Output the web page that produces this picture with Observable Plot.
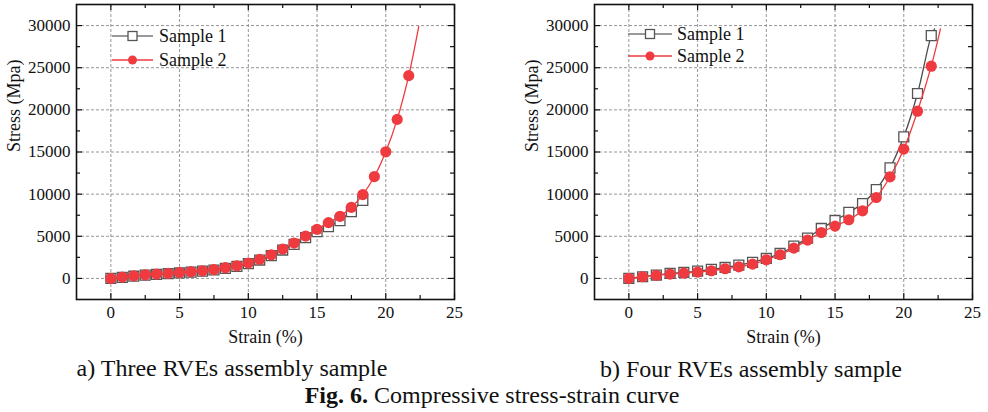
<!DOCTYPE html>
<html>
<head>
<meta charset="utf-8">
<script src="https://cdn.jsdelivr.net/npm/d3@7"></script>
<script src="https://cdn.jsdelivr.net/npm/@observablehq/plot@0.6"></script>
<style>
  html, body { margin: 0; padding: 0; background: #fff; }
  #page { position: relative; width: 988px; height: 412px; background: #fff; overflow: hidden;
          font-family: "Liberation Serif", "Times New Roman", serif; color: #111; }
  #page svg, #page svg text { font-family: "Liberation Serif", "Times New Roman", serif !important; }
  .panel { position: absolute; top: 0; }
  .cap { position: absolute; font-size: 24px; line-height: 24px; white-space: nowrap; transform: translateX(-50%); }
  #legend { position: absolute; left: 0; top: 0; pointer-events: none; }
</style>
</head>
<body>
<div id="page">
  <div class="panel" id="left"></div>
  <div class="panel" id="right" style="left:494px"></div>
  <svg id="legend" width="988" height="412"></svg>
  <div class="cap" style="left:232px; top:356px">a) Three RVEs assembly sample</div>
  <div class="cap" style="left:751px; top:357px">b) Four RVEs assembly sample</div>
  <div class="cap" style="left:492px; top:383px"><b>Fig. 6.</b> Compressive stress-strain curve</div>
</div>
<script>
// ---------- data ----------
const seriesNames = ["Sample 1", "Sample 2"];
const seriesColors = ["#555555", "#EF3B3F"];

// a) Three RVEs assembly sample
const leftStrain = [0, 0.83, 1.67, 2.5, 3.33, 4.17, 5, 5.83, 6.67, 7.5, 8.33, 9.17, 10, 10.83, 11.67, 12.5, 13.33, 14.17, 15, 15.83, 16.67, 17.5, 18.33, 19.17, 20, 20.83, 21.67];
const leftSample1 = [0, 120, 260, 390, 480, 560, 650, 750, 860, 1000, 1200, 1430, 1750, 2180, 2700, 3370, 4040, 4830, 5550, 6140, 6860, 7930, 9250];
const leftSample2 = [0, 150, 300, 430, 520, 600, 700, 800, 900, 1050, 1270, 1500, 1820, 2260, 2800, 3490, 4200, 5030, 5830, 6620, 7370, 8440, 9950, 12090, 15020, 18870, 24060];
const leftSample2LineEnd = [22.4, 29900];

// b) Four RVEs assembly sample
const rightStrain = [0, 1, 2, 3, 4, 5, 6, 7, 8, 9, 10, 11, 12, 13, 14, 15, 16, 17, 18, 19, 20, 21, 22];
const rightSample1 = [0, 200, 400, 590, 710, 870, 1070, 1300, 1580, 1900, 2370, 2960, 3830, 4780, 5930, 6880, 7830, 8890, 10550, 13120, 16800, 21940, 28810];
const rightSample2 = [0, 200, 360, 510, 630, 750, 910, 1150, 1380, 1700, 2210, 2810, 3600, 4550, 5450, 6210, 6960, 8020, 9600, 12060, 15340, 19840, 25180];
const rightSample1LineEnd = [22.24, 29600];
const rightSample2LineEnd = [22.67, 29600];

// axes
const xMajor = [0, 5, 10, 15, 20, 25];
const xMinor = [2.5, 7.5, 12.5, 17.5, 22.5];
const yMajor = [0, 5000, 10000, 15000, 20000, 25000, 30000];
const yMinor = [2500, 7500, 12500, 17500, 22500, 27500];
const xDomain = [-2.5, 25];
const yDomain = [-2500, 32500];
const xLabel = "Strain (%)";
const yLabel = "Stress (Mpa)";

const SERIF = "'Liberation Serif', 'Times New Roman', serif";

// ---------- chart ----------
function zip(xs, ys) { return ys.map((y, i) => ({x: xs[i], y})); }

function chart({s1, s2, s1End, s2End, marginLeft, marginRight}) {
  const W = 494, H = 355, mt = 4, mb = 56;
  const FW = W - marginLeft - marginRight, FH = H - mt - mb;
  const s1Line = s1End ? [...s1, {x: s1End[0], y: s1End[1]}] : s1;
  const s2Line = s2End ? [...s2, {x: s2End[0], y: s2End[1]}] : s2;
  const ink = "#111";
  const grid = {stroke: "#8a8a8a", strokeOpacity: 1, strokeWidth: 0.9, strokeDasharray: "3,2"};
  return Plot.plot({
    width: W, height: H, marginLeft, marginRight, marginTop: mt, marginBottom: mb,
    style: {fontFamily: SERIF, fontSize: "17px", color: ink, background: "transparent", overflow: "visible"},
    x: {domain: xDomain},
    y: {domain: yDomain},
    marks: [
      Plot.gridX(xMajor, grid),
      Plot.gridY(yMajor, grid),
      Plot.line(s1Line, {x: "x", y: "y", stroke: "#4a4a4a", strokeWidth: 1.3, curve: "catmull-rom"}),
      Plot.dot(s1, {x: "x", y: "y", symbol: "square", r: 5.6, fill: "white", stroke: seriesColors[0], strokeWidth: 1.3}),
      Plot.line(s2Line, {x: "x", y: "y", stroke: seriesColors[1], strokeWidth: 1.3, curve: "catmull-rom"}),
      Plot.dot(s2, {x: "x", y: "y", symbol: "circle", r: 5.6, fill: seriesColors[1], stroke: "none"}),
      Plot.frame({stroke: ink, strokeWidth: 1.6}),
      // inward ticks on all four sides
      Plot.tickX(xMajor, {x: d => d, stroke: ink, strokeWidth: 1.2, insetTop: FH - 6}),
      Plot.tickX(xMinor, {x: d => d, stroke: ink, strokeWidth: 1.2, insetTop: FH - 4}),
      Plot.tickX(xMajor, {x: d => d, stroke: ink, strokeWidth: 1.2, insetBottom: FH - 6}),
      Plot.tickX(xMinor, {x: d => d, stroke: ink, strokeWidth: 1.2, insetBottom: FH - 4}),
      Plot.tickY(yMajor, {y: d => d, stroke: ink, strokeWidth: 1.2, insetRight: FW - 6}),
      Plot.tickY(yMinor, {y: d => d, stroke: ink, strokeWidth: 1.2, insetRight: FW - 4}),
      Plot.tickY(yMajor, {y: d => d, stroke: ink, strokeWidth: 1.2, insetLeft: FW - 6}),
      Plot.tickY(yMinor, {y: d => d, stroke: ink, strokeWidth: 1.2, insetLeft: FW - 4}),
      Plot.axisX({ticks: xMajor, tickSize: 0, tickPadding: 6, label: null, fontSize: 17, fontFamily: SERIF, tickFormat: d => String(d)}),
      Plot.axisY({ticks: yMajor, tickSize: 0, tickPadding: 6, label: null, fontSize: 17, fontFamily: SERIF, tickFormat: d => String(d)}),
      Plot.text([xLabel], {text: d => d, frameAnchor: "bottom", dy: 43, fontSize: 18, fontFamily: SERIF, fill: ink}),
      Plot.text([yLabel], {text: d => d, frameAnchor: "left", dx: -62, rotate: -90, fontSize: 18, fontFamily: SERIF, fill: ink})
    ]
  });
}

document.getElementById("left").append(chart({
  s1: zip(leftStrain, leftSample1), s2: zip(leftStrain, leftSample2),
  s1End: null, s2End: leftSample2LineEnd, marginLeft: 76, marginRight: 40
}));
document.getElementById("right").append(chart({
  s1: zip(rightStrain, rightSample1), s2: zip(rightStrain, rightSample2),
  s1End: rightSample1LineEnd, s2End: rightSample2LineEnd, marginLeft: 100, marginRight: 16
}));

// ---------- legends (inside plot areas) ----------
const legendBoxes = [
  {x0: 112, x1: 153, tx: 159, y: [36, 60]},
  {x0: 628, x1: 672, tx: 677, y: [34, 56]}
];
const lg = d3.select("#legend");
legendBoxes.forEach(b => {
  seriesNames.forEach((name, i) => {
    const y = b.y[i], cx = (b.x0 + b.x1) / 2;
    lg.append("line").attr("x1", b.x0).attr("x2", b.x1).attr("y1", y).attr("y2", y)
      .attr("stroke", i === 0 ? "#777" : seriesColors[1]).attr("stroke-width", 1.5);
    if (i === 0) {
      lg.append("rect").attr("x", cx - 4.5).attr("y", y - 4.5).attr("width", 9).attr("height", 9)
        .attr("fill", "white").attr("stroke", seriesColors[0]).attr("stroke-width", 1.3);
    } else {
      lg.append("circle").attr("cx", cx).attr("cy", y).attr("r", 4.5).attr("fill", seriesColors[1]);
    }
    lg.append("text").attr("x", b.tx).attr("y", y).attr("dy", "0.35em")
      .attr("font-family", SERIF).attr("font-size", 18)
      .attr("fill", "#111").text(name);
  });
});
</script>
</body>
</html>
